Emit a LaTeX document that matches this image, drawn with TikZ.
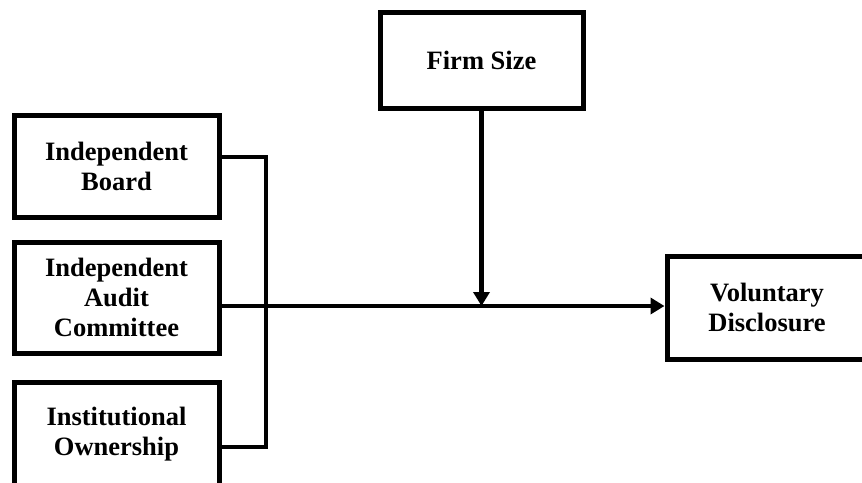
\documentclass[tikz,border=0pt]{standalone}
\usepackage{fontspec}
\setmainfont{Liberation Serif}
\usetikzlibrary{arrows.meta}
\begin{document}
\begin{tikzpicture}[x=1pt,y=-1pt,
  box/.style={draw=black,line width=5pt,fill=white,align=center,inner sep=0pt,
    font=\fontsize{26.5}{30}\selectfont\bfseries},
  conn/.style={line width=4.8pt},
  arr/.style={line width=4.8pt,-{Triangle[length=14pt,width=16pt]}}]
\useasboundingbox (0,0) rectangle (862,482);
\node[box,minimum width=205pt,minimum height=102pt] (b1) at (116.5,166) {Independent\\Board};
\node[box,minimum width=205pt,minimum height=111pt] (b2) at (116.5,297.5) {Independent\\Audit\\Committee};
\node[box,minimum width=205pt,minimum height=104pt] (b3) at (116.5,434) {Institutional\\Ownership};
\node[box,minimum width=203pt,minimum height=96pt] (fs) at (481.5,60) {Firm Size};
\node[box,minimum width=200pt,minimum height=103pt] (vd) at (767,307.5) {Voluntary\\Disclosure};
\coordinate (j1) at (266,157);
\coordinate (j3) at (266,447);
\coordinate (m) at (266,306);
\draw[conn] (b1.east |- j1) -- (j1) -- (j3) -- (b3.east |- j3);
\draw[arr] (b2.east |- m) -- (vd.west |- m);
\draw[arr] (fs.south) -- (fs.south |- m);
\end{tikzpicture}
\end{document}
